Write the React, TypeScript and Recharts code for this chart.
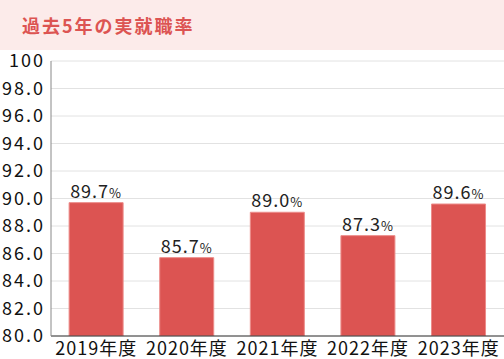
import React from "react";
import { BarChart, Bar, XAxis, YAxis, CartesianGrid, LabelList } from "recharts";

// 年度ごとの実就職率
const years = ["2019年度", "2020年度", "2021年度", "2022年度", "2023年度"];
const rates = [89.7, 85.7, 89.0, 87.3, 89.6];
const yTicks = [80, 82, 84, 86, 88, 90, 92, 94, 96, 98, 100];

const data = years.map((y, i) => ({ year: y, rate: rates[i] }));

const FONT = "'Noto Sans CJK JP', 'Noto Sans', sans-serif";
const RED = "#dc5452";

function RateLabel(props: any) {
  const { x, y, width, value } = props;
  return (
    <text
      x={x + width / 2}
      y={y - 5}
      textAnchor="middle"
      fontFamily={FONT}
      fill="#222"
      letterSpacing={1}
    >
      <tspan fontSize={18}>{Number(value).toFixed(1)}</tspan>
      <tspan fontSize={13}>%</tspan>
    </text>
  );
}

export default function App() {
  return (
    <div
      style={{
        position: "fixed",
        left: 0,
        top: 0,
        width: 504,
        height: 359,
        background: "#fff",
        fontFamily: FONT,
      }}
    >
      {/* 見出し帯 */}
      <div
        style={{
          position: "absolute",
          left: 0,
          top: 0,
          width: 504,
          height: 50,
          background: "#fcebea",
          color: RED,
          fontWeight: 700,
          fontSize: 18,
          letterSpacing: 2,
          lineHeight: "50px",
          paddingLeft: 22,
          boxSizing: "border-box",
        }}
      >
        過去5年の実就職率
      </div>
      <div style={{ position: "absolute", left: 0, top: 0 }}>
        <BarChart
          width={504}
          height={359}
          data={data}
          margin={{ top: 61, right: 0, left: 0, bottom: 0 }}
          barCategoryGap="20%"
        >
          <CartesianGrid vertical={false} stroke="#e2e2e2" />
          <XAxis
            dataKey="year"
            tickLine={false}
            axisLine={{ stroke: "#333" }}
            height={23}
            tick={{ fontSize: 18, fill: "#111", fontFamily: FONT, letterSpacing: 1 }}
            tickMargin={0}
            interval={0}
          />
          <YAxis
            domain={[80, 100]}
            ticks={yTicks}
            width={51}
            tickLine={false}
            axisLine={{ stroke: "#888" }}
            tick={{ fontSize: 18, fill: "#111", fontFamily: FONT, letterSpacing: 2, dx: 2 }}
            tickFormatter={(v: number) => (v === 100 ? "100" : v.toFixed(1))}
            allowDataOverflow
          />
          <Bar
            dataKey="rate"
            fill={RED}
            stroke="#ec8c8a"
            strokeWidth={1}
            isAnimationActive={false}
          >
            <LabelList dataKey="rate" content={<RateLabel />} />
          </Bar>
        </BarChart>
      </div>
    </div>
  );
}
